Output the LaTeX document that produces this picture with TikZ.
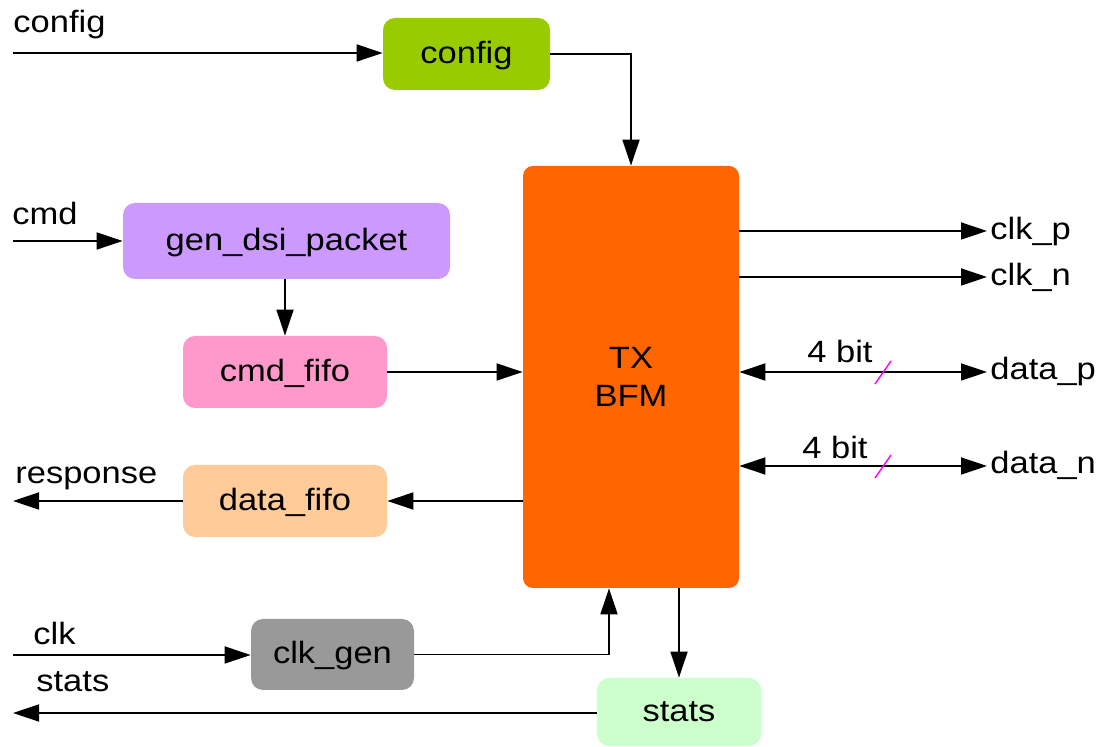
\documentclass[tikz,border=0pt]{standalone}
\usepackage{fontspec}
\setmainfont{Liberation Sans}[FakeStretch=1.12]
\usetikzlibrary{arrows.meta}
\definecolor{cfgc}{HTML}{99CC00}
\definecolor{txc}{HTML}{FF6600}
\definecolor{genc}{HTML}{CC99FF}
\definecolor{cmdc}{HTML}{FF99CC}
\definecolor{datac}{HTML}{FFCC99}
\definecolor{clkc}{HTML}{999999}
\definecolor{statc}{HTML}{CCFFCC}
\definecolor{slashc}{HTML}{FF00FF}
\tikzset{
  box/.style={rounded corners=6pt, inner sep=0pt, text height=1.1em, text depth=0.165em},
  arr/.style={line width=0.9pt, -{Triangle[length=13pt,width=8.5pt]}},
  darr/.style={line width=0.9pt, {Triangle[length=13pt,width=8.5pt]}-{Triangle[length=13pt,width=8.5pt]}},
  lbl/.style={inner sep=0pt, anchor=base west},
  slash/.style={draw=slashc, line width=0.7pt},
}
\begin{document}
\begin{tikzpicture}[x=0.5pt,y=-0.5pt,font=\fontsize{15.4}{19}\selectfont]
\useasboundingbox[fill=white] (0,0) rectangle (1104,747);
% boxes
\node[box, fill=cfgc, minimum width=83.5pt, minimum height=36pt] (config) at (466.5,54) {config};
\node[fill=txc, inner sep=0pt, align=center, minimum width=108pt, minimum height=211pt, rounded corners=5pt] (tx) at (631,377) {TX\\BFM};
\node[box, fill=genc, minimum width=163.5pt, minimum height=38pt] (gen) at (286.5,241) {gen\_dsi\_packet};
\node[box, fill=cmdc, minimum width=102pt, minimum height=36pt] (cmdfifo) at (285,372) {cmd\_fifo};
\node[box, fill=datac, minimum width=102pt, minimum height=36pt] (datafifo) at (285,501) {data\_fifo};
\node[box, fill=clkc, minimum width=81.5pt, minimum height=35.5pt] (clkgen) at (332.5,654.5) {clk\_gen};
\node[box, fill=statc, minimum width=82pt, minimum height=34pt] (stats) at (679,712) {stats};
% free ends
\coordinate (cfgin) at (13,53);
\coordinate (cmdin) at (13,241);
\coordinate (respout) at (13,501);
\coordinate (clkin) at (13,655);
\coordinate (statout) at (13,713);
\coordinate (clkp) at (987,231);
\coordinate (clkn) at (987,277);
\coordinate (datap) at (987,372);
\coordinate (datan) at (987,466);
% labels
\node[lbl] (lcfg) at (13,33) {config};
\node[lbl] (lcmd) at (12,225) {cmd};
\node[lbl] (lresp) at (15,484) {response};
\node[lbl] (lclk) at (33,645) {clk};
\node[lbl] (lstat) at (36,692) {stats};
\node[lbl] (lclkp) at (990,240) {clk\_p};
\node[lbl] (lclkn) at (990,286) {clk\_n};
\node[lbl] (ldatap) at (990,380) {data\_p};
\node[lbl] (ldatan) at (990,474) {data\_n};
\node[inner sep=0pt, anchor=base] (bitp) at (840,363) {4 bit};
\node[inner sep=0pt, anchor=base] (bitn) at (835,459) {4 bit};
% connectors
\draw[arr] (cfgin) -- (cfgin -| config.west);
\draw[arr] (config.east) -| (tx.north);
\draw[arr] (cmdin) -- (cmdin -| gen.west);
\draw[arr] (cmdfifo.north |- gen.south) -- (cmdfifo.north);
\draw[arr] (cmdfifo.east) -- (cmdfifo.east -| tx.west);
\draw[arr] (datafifo.east -| tx.west) -- (datafifo.east);
\draw[arr] (datafifo.west) -- (respout);
\draw[arr] (clkin) -- (clkin -| clkgen.west);
\draw[arr] (clkgen.east) -| ([xshift=-11pt]tx.south);
\draw[arr] (tx.south -| stats.north) -- (stats.north);
\draw[arr] (statout -| stats.west) -- (statout);
\draw[arr] (clkp -| tx.east) -- (clkp);
\draw[arr] (clkn -| tx.east) -- (clkn);
\draw[darr] (datap -| tx.east) -- (datap);
\draw[darr] (datan -| tx.east) -- (datan);
% bus slashes
\draw[slash] (875,384) -- (891,361);
\draw[slash] (875,478) -- (891,455);
\end{tikzpicture}
\end{document}
